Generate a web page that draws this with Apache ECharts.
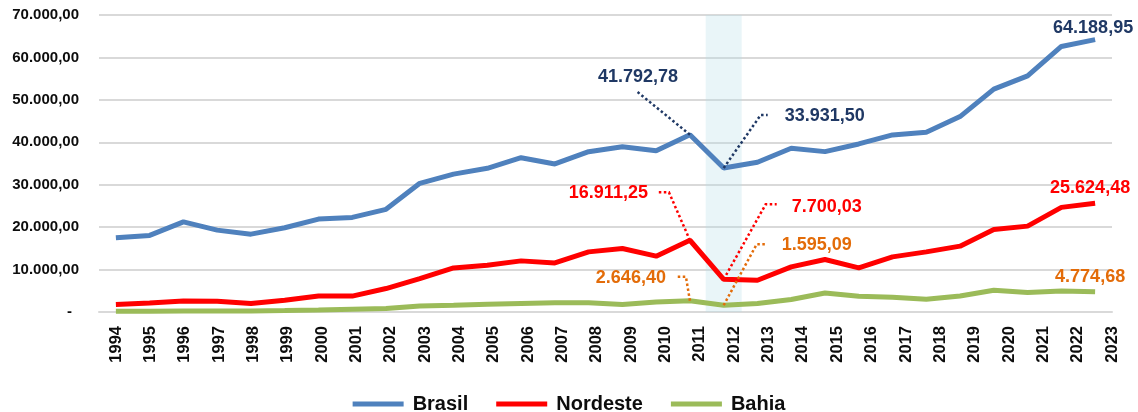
<!DOCTYPE html>
<html>
<head>
<meta charset="utf-8">
<script src="https://cdn.jsdelivr.net/npm/echarts@6/dist/echarts.min.js"></script>
<style>
  html, body { margin: 0; padding: 0; background: #fff; }
  #chart { width: 1138px; height: 412px; }
</style>
</head>
<body>
<div id="chart"></div>
<script>
// anos do eixo x
var years = ['1994', '1995', '1996', '1997', '1998', '1999', '2000', '2001', '2002', '2003',
    '2004', '2005', '2006', '2007', '2008', '2009', '2010', '2011', '2012', '2013',
    '2014', '2015', '2016', '2017', '2018', '2019', '2020', '2021', '2022', '2023'];

var brasil = [17480, 18050, 21250, 19300, 18350, 19850, 21900, 22300, 24200, 30330,
    32500, 33870, 36370, 34890, 37790, 38970, 38030, 41792.78, 33931.50, 35290,
    38590, 37800, 39610, 41740, 42370, 46060, 52530, 55670, 62590, 64188.95];

var nordeste = [1750, 2100, 2600, 2550, 1980, 2760, 3780, 3750, 5530, 7890,
    10390, 11030, 12050, 11570, 14170, 14970, 13160, 16911.25, 7700.03, 7490,
    10630, 12370, 10390, 12990, 14170, 15520, 19460, 20240, 24660, 25624.48];

var bahia = [150, 200, 250, 250, 230, 330, 450, 650, 800, 1420,
    1600, 1800, 2000, 2200, 2200, 1750, 2360, 2646.40, 1595.09, 2000,
    2930, 4490, 3710, 3470, 3000, 3780, 5120, 4580, 4960, 4774.68];

// faixa destacada
var highlightYears = ['2012'];

// rótulos de destaque: serie, ano, deslocamento do texto e da linha guia (px)
var notes = [
    { s: 0, year: '2011', color: '#1F3864', label: [-52, -58], align: 'center', guide: [[-54, -44]] },
    { s: 0, year: '2012', color: '#1F3864', label: [61, -52], align: 'left', guide: [[37, -53], [44, -53]] },
    { s: 1, year: '2011', color: '#FF0000', label: [-42, -47], align: 'right', guide: [[-21, -48], [-33, -48]] },
    { s: 1, year: '2012', color: '#FF0000', label: [68, -72], align: 'left', guide: [[42, -75], [53, -75]] },
    { s: 2, year: '2011', color: '#E36C09', label: [-24, -23], align: 'right', guide: [[-4, -24], [-13, -24]] },
    { s: 2, year: '2012', color: '#E36C09', label: [58, -60], align: 'left', guide: [[33, -61], [43, -61]] },
    { s: 0, year: '2023', color: '#1F3864', label: [-2, -12], align: 'center', guide: [] },
    { s: 1, year: '2023', color: '#FF0000', label: [-5, -15], align: 'center', guide: [] },
    { s: 2, year: '2023', color: '#E36C09', label: [-5, -15], align: 'center', guide: [] }
];

var seriesData = [brasil, nordeste, bahia];

// formato 70.000,00
function fmt(v) {
    var parts = v.toFixed(2).split('.');
    var int = parts[0].replace(/\B(?=(\d{3})+(?!\d))/g, '.');
    return int + ',' + parts[1];
}

var chart = echarts.init(document.getElementById('chart'));

var font = '"Liberation Sans", Arial, sans-serif';

var option = {
    animation: false,
    grid: { left: 99, right: 26, top: 15, bottom: 100 },
    legend: {
        data: ['Brasil', 'Nordeste', 'Bahia'],
        top: 389,
        left: 'center',
        icon: 'rect',
        itemWidth: 51,
        itemHeight: 5,
        itemGap: 28,
        textStyle: { fontFamily: font, fontWeight: 'bold', fontSize: 20, color: '#0D0D0D', padding: [0, 0, 0, 4] }
    },
    xAxis: [{
        type: 'category',
        data: years,
        boundaryGap: true,
        axisLine: { show: false },
        axisTick: { show: false },
        axisLabel: { show: false }
    }, {
        // eixo só para os rótulos dos anos
        type: 'value',
        position: 'bottom',
        min: 1993.5,
        max: 2023,
        interval: 0.5,
        splitLine: { show: false },
        axisTick: { show: false },
        axisLine: { show: true, lineStyle: { color: '#D9D9D9', width: 2 } },
        axisLabel: {
            rotate: 90,
            margin: 14,
            fontFamily: font,
            fontWeight: 'bold',
            fontSize: 16.5,
            color: '#0D0D0D',
            formatter: function (v) { return v % 1 === 0 ? String(v) : ''; }
        }
    }],
    yAxis: {
        type: 'value',
        min: 0,
        max: 70000,
        interval: 10000,
        axisLine: { show: false },
        axisTick: { show: false },
        splitLine: { lineStyle: { color: '#D9D9D9', width: 2 } },
        axisLabel: {
            margin: 20,
            fontFamily: font,
            fontWeight: 'bold',
            fontSize: 15,
            color: '#0D0D0D',
            formatter: function (v) { return v === 0 ? '{d|-}' : fmt(v); },
            rich: { d: { fontFamily: font, fontWeight: 'bold', fontSize: 15, color: '#0D0D0D', padding: [0, 7, 0, 0] } }
        }
    },
    series: [{
        name: 'Brasil',
        type: 'line',
        data: brasil,
        symbol: 'none',
        z: 4,
        lineStyle: { color: '#4F81BD', width: 5 },
        itemStyle: { color: '#4F81BD' }
    }, {
        name: 'Nordeste',
        type: 'line',
        data: nordeste,
        symbol: 'none',
        z: 4,
        lineStyle: { color: '#FF0000', width: 5 },
        itemStyle: { color: '#FF0000' }
    }, {
        name: 'Bahia',
        type: 'line',
        data: bahia,
        symbol: 'none',
        z: 4,
        lineStyle: { color: '#9BBB59', width: 5 },
        itemStyle: { color: '#9BBB59' }
    }, {
        name: 'faixa',
        type: 'bar',
        data: years.map(function (y) { return highlightYears.indexOf(y) >= 0 ? 70000 : '-'; }),
        barWidth: 36,
        silent: true,
        z: 1,
        itemStyle: { color: 'rgba(183, 222, 232, 0.3)' }
    }]
};

chart.setOption(option);

// desenha rótulos e linhas guia a partir dos pontos dos dados
var elements = [];
notes.forEach(function (n) {
    var idx = years.indexOf(n.year);
    var v = seriesData[n.s][idx];
    var p = chart.convertToPixel({ seriesIndex: n.s }, [n.year, v]);
    if (n.guide.length) {
        var pts = [p].concat(n.guide.map(function (g) { return [p[0] + g[0], p[1] + g[1]]; }));
        elements.push({
            type: 'polyline',
            z: 10,
            shape: { points: pts },
            style: { stroke: n.color, lineWidth: 2.5, lineDash: [2.5, 2.5], fill: null }
        });
    }
    elements.push({
        type: 'text',
        z: 11,
        x: p[0] + n.label[0],
        y: p[1] + n.label[1],
        style: {
            text: fmt(v),
            fill: n.color,
            font: 'bold 18px ' + font,
            align: n.align,
            verticalAlign: 'middle'
        }
    });
});
chart.setOption({ graphic: elements });
</script>
</body>
</html>
